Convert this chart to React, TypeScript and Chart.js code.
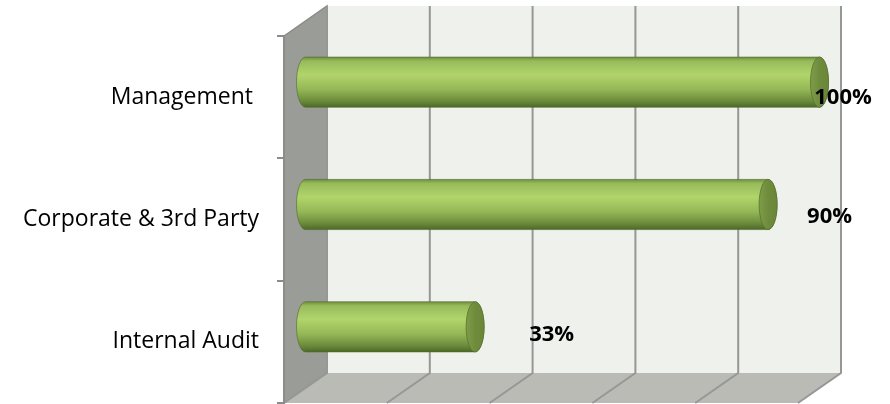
import React, { useEffect, useRef } from "react";
import { Chart, registerables } from "chart.js";

Chart.register(...registerables);

const categories = ["Management ", "Corporate & 3rd Party", "Internal Audit"];
const values = [1.0, 0.9, 0.33];
const dataLabels = ["100%", "90%", "33%"];
const xTicks = [0, 0.2, 0.4, 0.6, 0.8, 1.0];

const DX = 43;
const DY = 30;

function drawCylinder(ctx: CanvasRenderingContext2D, x0: number, x1: number, cy: number, h: number, rx: number) {
  const top = cy - h / 2;
  const bot = cy + h / 2;
  const g = ctx.createLinearGradient(0, top, 0, bot);
  g.addColorStop(0, "#6f8f3c");
  g.addColorStop(0.08, "#97bb5b");
  g.addColorStop(0.35, "#b1d56b");
  g.addColorStop(0.65, "#94b656");
  g.addColorStop(0.88, "#6a8a3a");
  g.addColorStop(1, "#4d6828");
  ctx.save();
  ctx.beginPath();
  ctx.moveTo(x0, top);
  ctx.lineTo(x1, top);
  ctx.ellipse(x1, cy, rx, h / 2, 0, -Math.PI / 2, Math.PI / 2);
  ctx.lineTo(x0, bot);
  ctx.ellipse(x0, cy, rx, h / 2, 0, Math.PI / 2, (3 * Math.PI) / 2);
  ctx.closePath();
  ctx.fillStyle = g;
  ctx.fill();
  ctx.strokeStyle = "rgba(80,105,40,0.6)";
  ctx.lineWidth = 1;
  ctx.stroke();
  // end cap
  ctx.beginPath();
  ctx.ellipse(x1, cy, rx, h / 2, 0, 0, Math.PI * 2);
  const cg = ctx.createLinearGradient(x1 - rx, 0, x1 + rx, 0);
  cg.addColorStop(0, "#7e9c48");
  cg.addColorStop(0.5, "#6f8c3d");
  cg.addColorStop(1, "#6a8739");
  ctx.fillStyle = cg;
  ctx.fill();
  ctx.strokeStyle = "rgba(90,115,48,0.8)";
  ctx.stroke();
  ctx.restore();
}

const wallsPlugin = {
  id: "walls3d",
  beforeDraw(chart: any) {
    const { ctx, chartArea, scales } = chart;
    const { left, right, top, bottom } = chartArea;
    const xs = scales.x;
    ctx.save();
    // back wall
    ctx.fillStyle = "#eff1ec";
    ctx.fillRect(left + DX, top - DY, right - left, bottom - top);
    // left wall
    ctx.beginPath();
    ctx.moveTo(left, top);
    ctx.lineTo(left + DX, top - DY);
    ctx.lineTo(left + DX, bottom - DY);
    ctx.lineTo(left, bottom);
    ctx.closePath();
    ctx.fillStyle = "#9a9c97";
    ctx.fill();
    ctx.strokeStyle = "#8a8a8a";
    ctx.lineWidth = 1.5;
    ctx.stroke();
    // floor
    ctx.beginPath();
    ctx.moveTo(left, bottom);
    ctx.lineTo(left + DX, bottom - DY);
    ctx.lineTo(right + DX, bottom - DY);
    ctx.lineTo(right, bottom);
    ctx.closePath();
    ctx.fillStyle = "#b9bbb4";
    ctx.fill();
    // grid lines
    ctx.strokeStyle = "#979797";
    ctx.lineWidth = 2;
    xTicks.forEach((t) => {
      const x = xs.getPixelForValue(t);
      ctx.beginPath();
      ctx.moveTo(x + DX, top - DY);
      ctx.lineTo(x + DX, bottom - DY);
      ctx.lineTo(x, bottom);
      ctx.stroke();
    });
    ctx.restore();
  },
  afterDatasetsDraw(chart: any) {
    const { ctx } = chart;
    const meta = chart.getDatasetMeta(0);
    const offsets = chart.options.plugins.walls3d.labelOffsets;
    const yOffsets = chart.options.plugins.walls3d.labelYOffsets;
    meta.data.forEach((bar: any) => {
      drawCylinder(ctx, bar.base + DX / 2, bar.x + DX / 2, bar.y - DY / 2, bar.height, 9);
    });
    ctx.save();
    ctx.fillStyle = "#000";
    ctx.font = "bold 22px 'Open Sans'";
    ctx.textAlign = "center";
    ctx.textBaseline = "middle";
    meta.data.forEach((bar: any, i: number) => {
      ctx.fillText(dataLabels[i], bar.x + offsets[i], bar.y + yOffsets[i]);
    });
    ctx.restore();
  },
};

export default function App() {
  const ref = useRef<HTMLCanvasElement>(null);
  useEffect(() => {
    const chart = new Chart(ref.current!, {
      type: "bar",
      data: {
        labels: categories,
        datasets: [
          {
            data: values,
            backgroundColor: "rgba(0,0,0,0)",
            borderWidth: 0,
            barPercentage: 0.41,
            categoryPercentage: 1,
          },
        ],
      },
      options: {
        indexAxis: "y",
        responsive: false,
        animation: false,
        layout: { padding: { top: 36, right: 92, bottom: 1, left: 0 } },
        scales: {
          x: { display: false, min: 0, max: 1 },
          y: {
            afterFit: (s: any) => {
              s.width = 284;
              s.paddingTop = 0;
              s.paddingBottom = 0;
            },
            grid: {
              drawOnChartArea: false,
              drawTicks: true,
              tickLength: 7,
              color: "#8c8c8c",
              lineWidth: 2,
              offset: true,
            },
            border: { display: true, color: "#8c8c8c", width: 2 },
            ticks: {
              font: { family: "'Open Sans'", size: 23 },
              color: "#000",
              padding: 18,
            },
          },
        },
        plugins: {
          legend: { display: false },
          tooltip: { enabled: false },
          walls3d: { labelOffsets: [45, 83, 98], labelYOffsets: [1, -3, -7] },
        } as any,
      },
      plugins: [wallsPlugin],
    });
    return () => chart.destroy();
  }, []);
  return (
    <div style={{ position: "fixed", left: 0, top: 0, width: 890, height: 404, background: "#fff" }}>
      <canvas ref={ref} width={890} height={404} />
    </div>
  );
}
